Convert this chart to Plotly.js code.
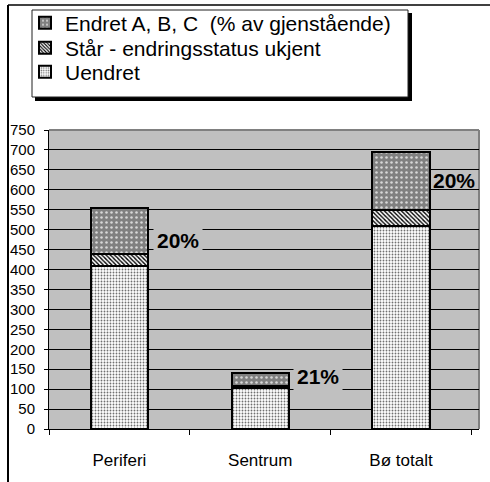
<!DOCTYPE html>
<html><head><meta charset="utf-8">
<script src="https://cdn.plot.ly/plotly-3.0.1.min.js"></script>
<style>html,body{margin:0;padding:0;background:#fff;overflow:hidden;width:490px;height:482px}#chart{width:490px;height:482px;overflow:hidden}</style>
</head><body><div id="chart"></div>
<script>
const categories = ['Periferi', 'Sentrum', 'Bø totalt'];
const uendret = [410, 103, 510];
const staar = [28, 5, 40];
const endret = [117, 32, 144];
const pctLabels = ['20%', '21%', '20%'];
const labelY = [473, 131, 623];
const seriesNames = ['Uendret', 'Står - endringsstatus ukjent', 'Endret A, B, C  (% av gjenstående)'];

const F = 'Liberation Sans, Arial, sans-serif';
const line = {color: '#000', width: 2};
const traces = [
  {type: 'bar', name: seriesNames[0], x: categories, y: uendret, legend: 'legend',
   marker: {color: '#ffffff', line: line, pattern: {shape: '.', fgcolor: '#707070', bgcolor: '#ffffff', size: 3, solidity: 0.3, fillmode: 'replace'}}},
  {type: 'bar', name: seriesNames[1], x: categories, y: staar, legend: 'legend2',
   marker: {color: '#ffffff', line: line, pattern: {shape: '\\', fgcolor: '#000', bgcolor: '#ffffff', size: 3, solidity: 0.45, fillmode: 'replace'}}},
  {type: 'bar', name: seriesNames[2], x: categories, y: endret, legend: 'legend3',
   marker: {color: '#808080', line: line, pattern: {shape: '.', fgcolor: '#d8d8d8', bgcolor: '#808080', size: 5, solidity: 0.2, fillmode: 'replace'}}}
];

const xshifts = [34, 33, 28];
const annotations = categories.map((c, i) => ({
  x: c, y: labelY[i], xref: 'x', yref: 'y', text: '<b>' + pctLabels[i] + '</b>',
  showarrow: false, xanchor: 'left', yanchor: 'middle', xshift: xshifts[i],
  bgcolor: i === 2 ? 'rgba(0,0,0,0)' : '#c0c0c0', borderpad: 3,
  font: {family: F, size: 21, color: '#000'}
}));

const L = 49, R = 479, T = 130, B = 429, W = 490, H = 482;
const px = v => (v - L) / (R - L);
const py = v => (B - v) / (B - T);

const shapes = [
  {type: 'line', xref: 'paper', yref: 'paper', x0: 0, x1: 1, y0: 1, y1: 1, line: {color: '#808080', width: 2}, layer: 'below'},
  {type: 'line', xref: 'paper', yref: 'paper', x0: 1, x1: 1, y0: 0, y1: 1, line: {color: '#808080', width: 2}, layer: 'below'},
  {type: 'line', xref: 'paper', yref: 'paper', x0: px(8), x1: px(W), y0: py(5), y1: py(5), line: {color: '#404040', width: 2}},
  {type: 'line', xref: 'paper', yref: 'paper', x0: px(8), x1: px(8), y0: py(5), y1: py(H), line: {color: '#000', width: 2}},
  {type: 'rect', xref: 'paper', yref: 'paper', x0: px(35), x1: px(412), y0: py(13), y1: py(101), fillcolor: '#000', line: {width: 0}, layer: 'above'},
  {type: 'rect', xref: 'paper', yref: 'paper', x0: px(32), x1: px(408), y0: py(10), y1: py(97), fillcolor: '#fff', line: {color: '#202020', width: 1}, layer: 'above'}
];

const legendBase = {x: px(25), xanchor: 'left', yanchor: 'middle', bgcolor: 'rgba(0,0,0,0)', borderwidth: 0,
                    font: {family: F, size: 21, color: '#000'}, itemwidth: 30};
const layout = {
  width: W, height: H,
  margin: {l: L, r: W - R, t: T, b: H - B, pad: 0, autoexpand: false},
  paper_bgcolor: '#ffffff', plot_bgcolor: '#c0c0c0',
  barmode: 'stack', bargap: 0.595,
  font: {family: F, color: '#000'},
  showlegend: true,
  legend3: Object.assign({}, legendBase, {y: py(23)}),
  legend2: Object.assign({}, legendBase, {y: py(48)}),
  legend: Object.assign({}, legendBase, {y: py(72)}),
  xaxis: {type: 'category', showgrid: false, showline: true, linecolor: '#000', linewidth: 1,
          ticks: 'outside', tickson: 'boundaries', ticklen: 5, tickcolor: '#000',
          tickfont: {family: F, size: 17, color: '#000'}, ticklabelstandoff: 16, fixedrange: true},
  yaxis: {range: [0, 750], dtick: 50, showgrid: true, gridcolor: '#000', gridwidth: 1,
          showline: true, linecolor: '#000', linewidth: 1, ticks: 'outside', ticklen: 4, tickcolor: '#000',
          tickfont: {family: F, size: 15, color: '#000'}, ticklabelstandoff: 6, zeroline: false, fixedrange: true},
  annotations: annotations,
  shapes: shapes
};

Plotly.newPlot('chart', traces, layout, {displayModeBar: false, staticPlot: true});
</script></body></html>
